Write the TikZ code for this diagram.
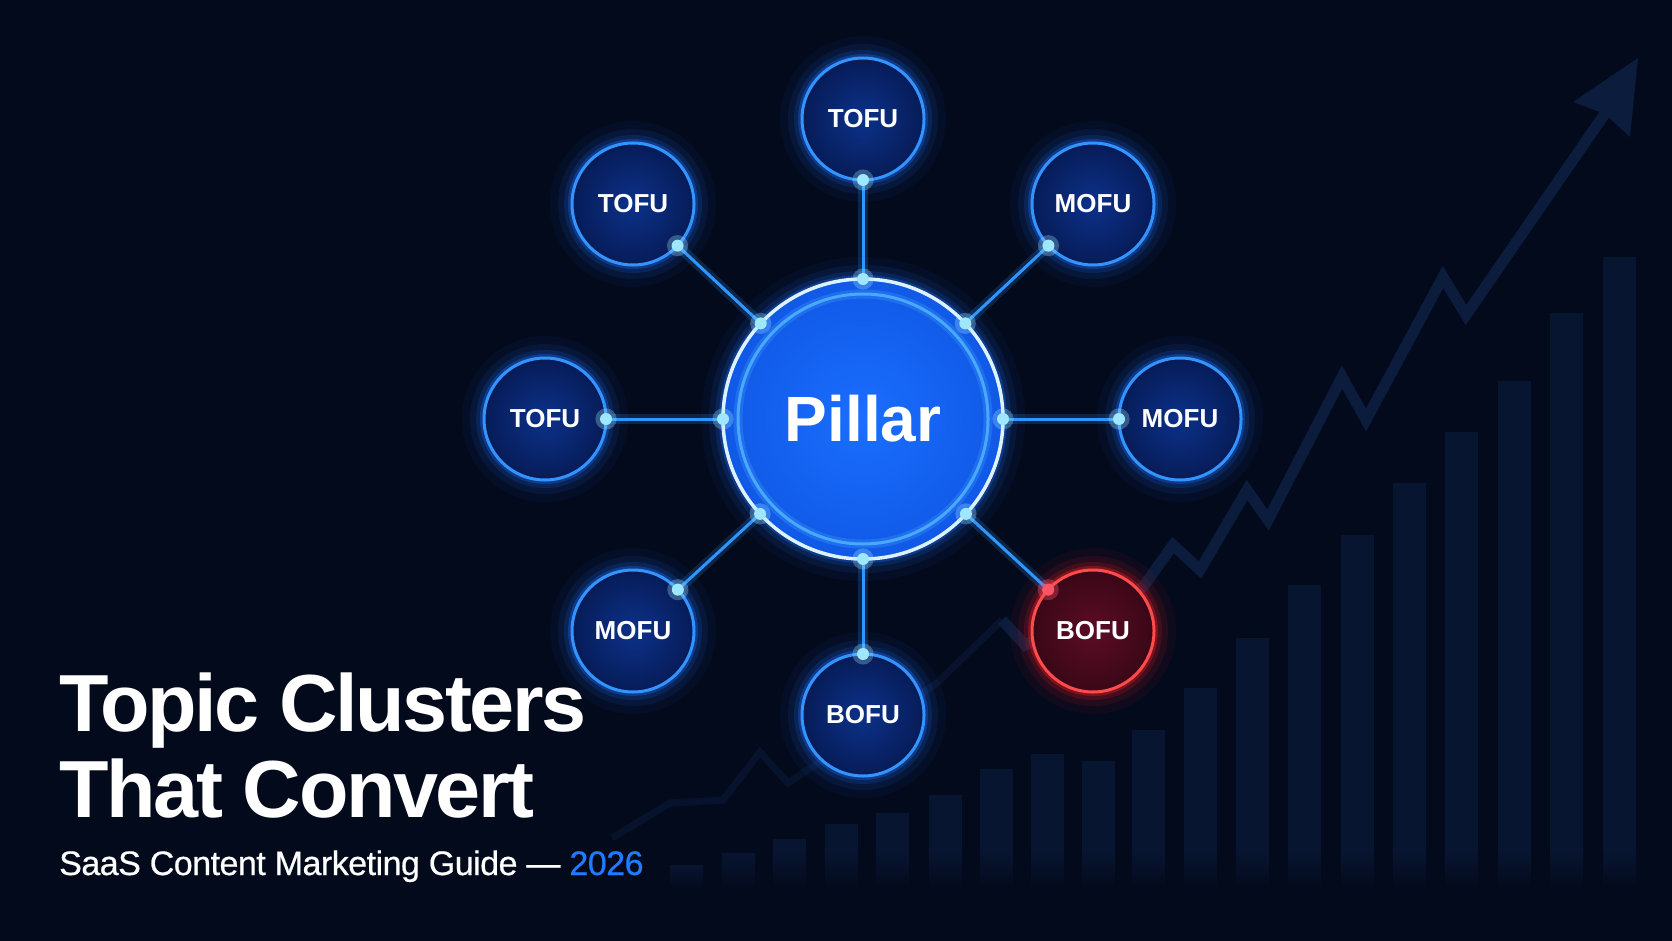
\documentclass[tikz,border=0pt]{standalone}
\usepackage{fontspec}
\setmainfont{Liberation Sans}
\newfontfamily\headfont[LetterSpace=-3.0]{Liberation Sans}
\newfontfamily\subfont[LetterSpace=-1.5,FakeBold=0.6]{Liberation Sans}
\usetikzlibrary{positioning}
\definecolor{bgnavy}{HTML}{030A1C}
\definecolor{barnavy}{HTML}{081531}
\definecolor{trendnavy}{HTML}{0B1C3D}
\definecolor{satin}{HTML}{0C318A}
\definecolor{satout}{HTML}{071C58}
\definecolor{satring}{HTML}{3494FF}
\definecolor{glowblue}{HTML}{1E6FFF}
\definecolor{pillarin}{HTML}{1B6EFF}
\definecolor{pillarout}{HTML}{1059E6}
\definecolor{innerring}{HTML}{49A8FF}
\definecolor{ringwhite}{HTML}{DDF2FF}
\definecolor{linkblue}{HTML}{2F95FF}
\definecolor{dotcyan}{HTML}{9FE6FF}
\definecolor{redring}{HTML}{FF4B4B}
\definecolor{redin}{HTML}{5C0C26}
\definecolor{redout}{HTML}{3A0717}
\definecolor{redglow}{HTML}{FF2020}
\definecolor{reddotcol}{HTML}{FF5566}
\definecolor{accentblue}{HTML}{1F7BFF}

\begin{document}
\begin{tikzpicture}[
  x=1pt,y=-1pt,
  glow/.style={preaction={draw=#1,line width=44pt,draw opacity=.05},
    preaction={draw=#1,line width=28pt,draw opacity=.09},
    preaction={draw=#1,line width=16pt,draw opacity=.15},
    preaction={draw=#1,line width=8pt,draw opacity=.3}},
  bubble/.style={circle,minimum size=122pt,inner sep=0pt,outer sep=0pt,
    line width=3pt,text=white,font=\bfseries\fontsize{26}{30}\selectfont},
  topic/.style={bubble,draw=satring,inner color=satin,outer color=satout,glow=glowblue},
  convert/.style={bubble,draw=redring,inner color=redin,outer color=redout,glow=redglow},
  pillarnode/.style={circle,minimum size=280pt,inner sep=0pt,outer sep=0pt,
    draw=ringwhite,line width=3.5pt,inner color=pillarin,outer color=pillarout,
    glow=glowblue,text=white,font=\bfseries\fontsize{64}{70}\selectfont},
  link/.style={draw=linkblue,line width=3pt},
  linkglow/.style={draw=linkblue,line width=10pt,draw opacity=.2},
  dotbase/.style={circle,minimum size=12pt,inner sep=0pt,outer sep=0pt},
  dot/.style={dotbase,fill=dotcyan,preaction={draw=dotcyan,line width=9pt,draw opacity=.3}},
  reddot/.style={dotbase,fill=reddotcol,preaction={draw=reddotcol,line width=9pt,draw opacity=.35}},
  titletext/.style={inner sep=0pt,text=white,font=\headfont\bfseries\fontsize{81}{90}\selectfont},
  subtext/.style={inner sep=0pt,text=white,font=\subfont\fontsize{34}{40}\selectfont},
  trend/.style={draw=trendnavy,line width=11pt,miter limit=4}
]
\fill[bgnavy] (0,0) rectangle (1672,941);
\useasboundingbox (0,0) rectangle (1672,941);

% growth bars in the background
\foreach \bx/\btop in {670/865,722/853,773/839,825/824,876/813,929/795,980/769,
    1031/754,1082/761,1132/730,1184/688,1236/638,1288/585,1341/535,1393/483,
    1445/432,1498/381,1550/313,1603/257}{
  \pgfmathsetmacro{\fadetop}{max(\btop,850)}
  \fill[barnavy] (\bx,\btop) rectangle (\bx+33,\fadetop);
  \shade[top color=barnavy,bottom color=bgnavy] (\bx,\fadetop) rectangle (\bx+33,888);
}

% trend line with arrow
\draw[trend,draw=trendnavy!50!bgnavy,line width=7pt] (612,838) -- (670,803) -- (723,800)
  -- (760,752) -- (788,783) -- (937,683) -- (1002,620);
\draw[trend] (1002,620) -- (1025,645) -- (1143,587) -- (1173,545) -- (1200,570)
  -- (1247,490) -- (1268,520) -- (1342,377) -- (1366,420) -- (1443,277)
  -- (1466,315) -- (1606,112);
\fill[trendnavy] (1638,58) -- (1573,102) -- (1605,114) -- (1630,137) -- cycle;

% cluster
\node[pillarnode] (pillar) at (863,419) {Pillar};
\draw[innerring,line width=3pt,preaction={draw=innerring,line width=9pt,draw opacity=.25}]
  (pillar.center) circle[radius=125];

\node[topic] (tofuN) at (863,119) {TOFU};
\node[topic] (tofuNW) at (633,204) {TOFU};
\node[topic] (mofuNE) at (1093,204) {MOFU};
\node[topic] (tofuW) at (545,419) {TOFU};
\node[topic] (mofuE) at (1180,419) {MOFU};
\node[topic] (mofuSW) at (633,631) {MOFU};
\node[topic] (bofuS) at (863,715) {BOFU};
\node[convert] (bofuSE) at (1093,631) {BOFU};

\foreach \sat in {tofuN,tofuNW,mofuNE,tofuW,mofuE,mofuSW,bofuS}{
  \draw[linkglow] (pillar) -- (\sat);
  \draw[link] (pillar) -- (\sat) node[dot,pos=0]{} node[dot,pos=1]{};
}
\draw[linkglow] (pillar) -- (bofuSE);
\draw[link] (pillar) -- (bofuSE) node[dot,pos=0]{} node[reddot,pos=1]{};

% headline
\node[titletext,anchor=base west] (title1) at (59,731) {Topic Clusters};
\node[titletext,anchor=base west] (title2) at ([yshift=-86pt]title1.base west) {That Convert};
\node[subtext,anchor=base west] (subtitle) at (59,875)
  {SaaS Content Marketing Guide — {\color{accentblue}2026}};
\end{tikzpicture}
\end{document}
